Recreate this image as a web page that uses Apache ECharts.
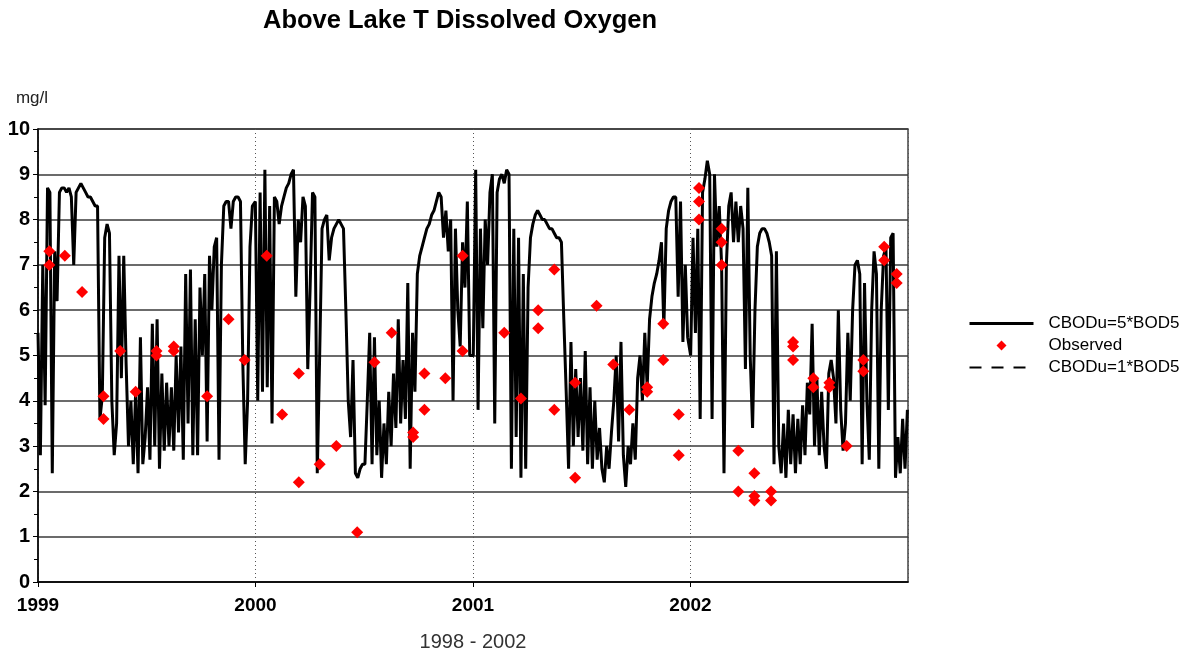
<!DOCTYPE html>
<html><head><meta charset="utf-8">
<script src="https://cdn.jsdelivr.net/npm/echarts/dist/echarts.min.js"></script>
<style>html,body{margin:0;padding:0;background:#fff}#c{width:1189px;height:657px}</style>
</head><body><div id="c"></div>
<script>
// ---- data ----
const startYears = [1999, 2000, 2001, 2002];
const sampleStepDays = 4;
const sim1999 = [5.5,2.8,7.0,3.9,8.7,8.6,2.4,7.3,6.2,8.6,
 8.7,8.7,8.6,8.7,8.5,7.0,8.6,8.7,8.8,8.7,
 8.6,8.5,8.5,8.4,8.3,8.3,3.6,4.1,7.6,7.9,
 7.7,4.0,2.8,3.5,7.2,4.5,7.2,4.8,3.0,4.0,
 2.6,4.2,2.4,5.4,2.6,3.2,4.3,2.7,5.7,3.0,
 5.8,2.5,4.6,2.9,4.4,3.0,4.3,2.9,5.0,3.3,
 5.2,2.7,6.8,3.5,6.9,2.8,5.8,2.8,6.5,5.0,
 6.8,3.1,7.2,6.0,7.4,7.6,2.7,7.0,8.3,8.4,
 8.4,7.8,8.4,8.5,8.5,8.4,4.8,2.6,4.0,7.4,
 8.3];
const sim2000 = [8.4,4.0,8.6,4.2,9.1,4.3,8.3,3.5,8.5,8.4,
 7.9,8.3,8.5,8.7,8.8,9.0,9.1,6.3,8.0,7.5,
 8.5,8.3,4.7,6.5,8.6,8.5,2.4,5.0,7.8,8.0,
 8.1,7.1,7.6,7.8,7.9,8.0,7.9,7.8,6.0,4.0,
 3.2,4.9,2.4,2.3,2.5,2.6,2.6,4.0,5.5,2.6,
 5.4,2.8,4.0,2.3,3.5,2.6,4.2,3.0,4.6,3.4,
 5.8,3.5,4.9,3.6,6.6,2.5,5.5,4.2,6.8,7.2,
 7.4,7.6,7.8,7.9,8.1,8.2,8.4,8.6,8.5,7.6,
 8.2,7.3,8.0,4.0,7.8,6.0,5.2,7.5,6.5,8.4,
 5.0];
const sim2001 = [5.0,9.1,3.8,7.8,5.6,8.0,7.0,8.6,9.0,3.5,
 8.6,8.9,9.0,8.8,9.1,9.0,2.5,7.8,3.2,7.6,
 2.3,6.8,2.5,6.5,7.6,7.9,8.1,8.2,8.1,8.0,
 8.0,7.9,7.8,7.8,7.7,7.6,7.6,7.5,5.8,4.2,
 2.5,5.3,3.0,4.7,3.2,4.5,2.9,5.1,2.6,4.3,
 2.5,4.0,2.7,3.4,2.5,2.2,3.0,2.5,3.3,4.0,
 5.0,3.1,5.3,2.8,2.1,3.0,2.6,3.5,2.7,4.5,
 5.0,4.0,5.5,4.3,5.8,6.3,6.6,6.8,7.1,7.5,
 5.6,7.8,8.2,8.4,8.5,8.5,6.3,8.4,5.3,7.0,
 5.4];
const sim2002 = [5.0,7.6,5.5,7.8,3.6,8.6,8.9,9.3,9.0,3.6,
 9.0,7.4,8.3,7.0,2.4,7.0,8.3,8.6,7.5,8.4,
 7.5,8.3,7.8,4.7,8.7,5.0,3.4,6.0,7.4,7.7,
 7.8,7.8,7.7,7.5,7.2,2.6,7.3,3.0,2.4,3.5,
 2.3,3.8,2.6,3.7,2.4,3.6,2.6,3.9,2.8,4.4,
 3.7,5.7,3.0,4.5,2.8,4.2,3.0,2.5,4.6,4.9,
 4.5,3.5,6.0,3.8,2.9,3.5,5.5,4.0,6.0,7.0,
 7.1,6.8,2.6,6.6,4.0,2.7,6.0,7.3,6.8,2.5,
 6.0,7.2,7.4,3.8,7.6,7.7,2.3,3.2,2.4,3.6,
 2.5,3.8];
const obsDates = ['1999-01-20','1999-01-20','1999-02-15','1999-03-16','1999-04-21','1999-04-21','1999-05-19','1999-06-14','1999-07-19','1999-07-19','1999-08-17','1999-08-17','1999-10-12','1999-11-17','1999-12-14',
 '2000-01-20','2000-02-15','2000-03-14','2000-03-14','2000-04-18','2000-05-16','2000-06-20','2000-07-19','2000-08-17','2000-09-22','2000-09-22','2000-10-11','2000-10-11','2000-11-15','2000-12-14','2000-12-14',
 '2001-02-22','2001-03-22','2001-04-20','2001-04-20','2001-05-17','2001-05-17','2001-06-21','2001-06-21','2001-07-27','2001-08-24','2001-09-20','2001-10-20','2001-10-20','2001-11-16','2001-11-16','2001-12-12','2001-12-12',
 '2002-01-15','2002-01-15','2002-01-15','2002-02-22','2002-02-22','2002-02-22','2002-03-22','2002-03-22','2002-04-18','2002-04-18','2002-04-18','2002-05-16','2002-05-16','2002-06-22','2002-06-22','2002-06-22','2002-07-26','2002-07-26','2002-08-22','2002-08-22','2002-09-20','2002-10-18','2002-10-18','2002-11-22','2002-11-22','2002-12-13','2002-12-13'];
const obsValues = [7.3,7.0,7.2,6.4,4.1,3.6,5.1,4.2,5.1,5.0,5.2,5.1,4.1,5.8,4.9,
 7.2,3.7,4.6,2.2,2.6,3.0,1.1,4.85,5.5,3.3,3.2,4.6,3.8,4.5,7.2,5.1,
 5.5,4.05,6.0,5.6,6.9,3.8,2.3,4.4,6.1,4.8,3.8,4.3,4.2,5.7,4.9,3.7,2.8,
 8.7,8.4,8.0,7.8,7.5,7.0,2.9,2.0,2.4,1.9,1.8,2.0,1.8,5.3,5.2,4.9,4.5,4.3,4.4,4.3,3.0,4.9,4.65,7.4,7.1,6.8,6.6];
const yMin = 0, yMax = 10, yStep = 1;
const seriesNames = ['CBODu=5*BOD5', 'Observed', 'CBODu=1*BOD5'];

// ---- build ----
const DAY = 86400000;
const sims = [sim1999, sim2000, sim2001, sim2002];
const lineData = [];
startYears.forEach((y, k) => {
  const t0 = Date.UTC(y, 0, 1);
  sims[k].forEach((v, i) => lineData.push([t0 + i * sampleStepDays * DAY, v]));
});
const toT = s => { const p = s.split('-').map(Number); return Date.UTC(p[0], p[1]-1, p[2]); };
const obsData = obsDates.map((d, i) => [toT(d), obsValues[i]]);
const xMin = Date.UTC(1999, 0, 1), xMax = Date.UTC(2003, 0, 1);
const FONT = '"Liberation Sans", Arial, sans-serif';
const DIAMOND = 'path://M6,0L12,6L6,12L0,6Z';

const chart = echarts.init(document.getElementById('c'), null, {renderer: 'canvas'});
chart.setOption({
  animation: false,
  backgroundColor: '#fff',
  textStyle: {fontFamily: FONT},
  title: {
    text: 'Above Lake T Dissolved Oxygen',
    left: 258, top: 3,
    textStyle: {fontFamily: FONT, fontSize: 25.5, fontWeight: 'bold', color: '#000'}
  },
  grid: {left: 38, top: 129, right: 281, bottom: 73, show: true, borderColor: '#444', borderWidth: 1.5, containLabel: false},
  legend: {
    orient: 'vertical', left: 963, top: 310,
    itemWidth: 64, itemHeight: 10, itemGap: 5, symbolKeepAspect: true,
    textStyle: {fontFamily: FONT, fontSize: 17, color: '#000', padding: [0, 0, 0, 10]},
    data: [
      {name: seriesNames[0], lineStyle: {width: 3}, itemStyle: {opacity: 0}},
      {name: seriesNames[1], icon: DIAMOND, itemStyle: {color: '#ff0000', opacity: 1}},
      {name: seriesNames[2], itemStyle: {opacity: 0}}
    ]
  },
  xAxis: {
    type: 'value', min: xMin, max: xMax, interval: 365.25 * DAY,
    name: '1998 - 2002', nameLocation: 'middle', nameGap: 50,
    nameTextStyle: {fontFamily: FONT, fontSize: 20, color: '#333'},
    axisLine: {show: true, lineStyle: {color: '#000', width: 1.5}},
    axisTick: {show: true, length: 5, lineStyle: {color: '#000'}},
    axisLabel: {
      margin: 14, fontFamily: FONT, fontSize: 19, fontWeight: 'bold', color: '#000', showMaxLabel: false,
      formatter: v => { const y = new Date(v + 12 * 3600000).getUTCFullYear(); return y > 2002 ? '' : String(y); }
    },
    splitLine: {show: true, lineStyle: {color: '#555', type: [1, 3], width: 1}}
  },
  yAxis: {
    type: 'value', min: yMin, max: yMax, interval: yStep,
    name: 'mg/l', nameLocation: 'end', nameGap: 22,
    nameTextStyle: {fontFamily: FONT, fontSize: 17, color: '#222', align: 'center', padding: [0, 12, 0, 0]},
    axisLine: {show: true, lineStyle: {color: '#000', width: 1.5}},
    axisTick: {show: true, length: 5, lineStyle: {color: '#000'}},
    minorTick: {show: true, splitNumber: 2, length: 4, lineStyle: {color: '#000'}},
    axisLabel: {margin: 8, fontFamily: FONT, fontSize: 20, fontWeight: 'bold', color: '#000'},
    splitLine: {show: true, lineStyle: {color: '#3a3a3a', width: 1.5}}
  },
  series: [
    {name: seriesNames[0], type: 'line', data: lineData, showSymbol: false, symbol: 'none',
     lineStyle: {color: '#000', width: 3}, itemStyle: {color: '#000'}, z: 2},
    {name: seriesNames[2], type: 'line', data: [], showSymbol: false, symbol: 'none',
     lineStyle: {color: '#000', width: 1.5, type: [12, 10]}, itemStyle: {color: '#000'}, z: 2},
    {name: seriesNames[1], type: 'scatter', data: obsData, symbol: 'diamond', symbolSize: [12, 12],
     itemStyle: {color: '#ff0000', opacity: 1}, z: 3}
  ]
});
</script></body></html>
